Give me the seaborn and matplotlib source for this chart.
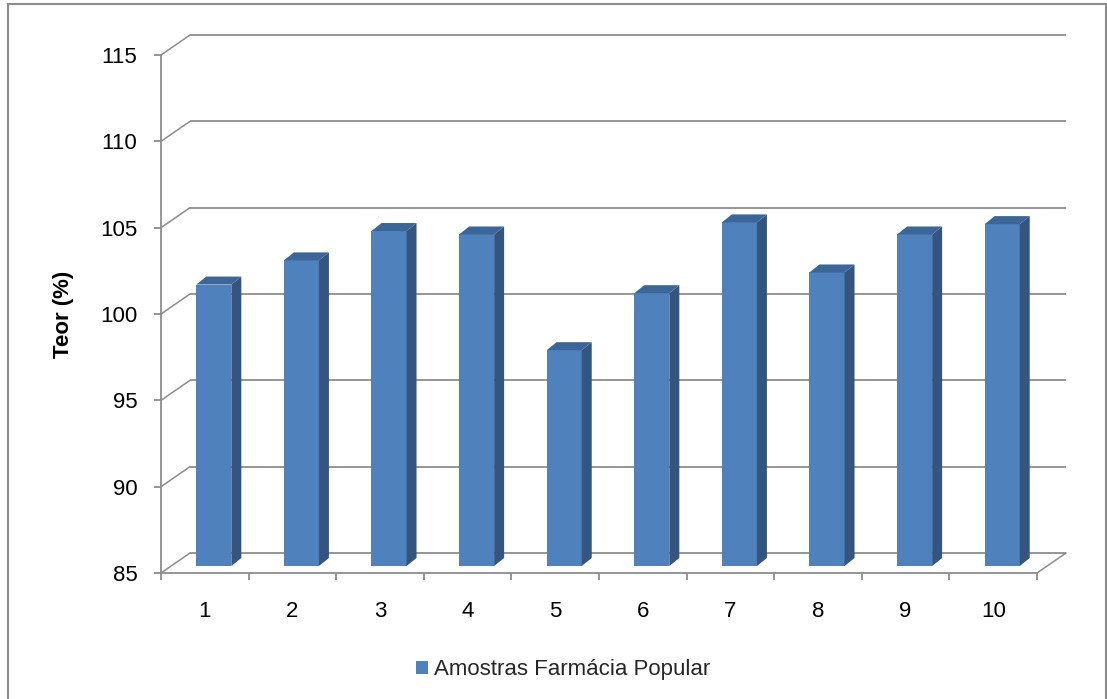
import numpy as np
import pandas as pd
import matplotlib
matplotlib.use("Agg")
import matplotlib.pyplot as plt
from matplotlib.patches import Polygon, Rectangle
import seaborn as sns

# Data
amostras = ["1", "2", "3", "4", "5", "6", "7", "8", "9", "10"]
teor = [101.3, 102.7, 104.4, 104.2, 97.5, 100.8, 104.9, 102.0, 104.2, 104.8]
y_ticks = [85, 90, 95, 100, 105, 110, 115]
serie = "Amostras Farmácia Popular"
y_label = "Teor (%)"

# Styling
FRONT = "#4f81bd"
SIDE = "#34557f"
TOP = "#3c6598"
GRID = "#8c8c8c"
FS = 16

sns.set_theme(style="ticks")
plt.rcParams["font.family"] = ["Liberation Sans", "DejaVu Sans"]

W, H = 1107, 699
fig = plt.figure(figsize=(W / 100, H / 100), dpi=100)
ax = fig.add_axes([161 / W, (H - 573) / H, 876 / W, 518 / H])

df = pd.DataFrame({"amostra": amostras, "teor": teor})
sns.barplot(data=df, x="amostra", y="teor", color=FRONT, saturation=1,
            width=0.4, linewidth=0, label=serie, ax=ax, zorder=3)
if ax.get_legend() is not None:
    ax.get_legend().remove()

ax.set_xlim(-0.5, len(amostras) - 0.5)
ax.set_ylim(y_ticks[0], y_ticks[-1])
BASE = y_ticks[0]

# oblique depth offsets, expressed in data units
px_x = 876 / len(amostras)
px_y = 518 / (y_ticks[-1] - y_ticks[0])
DX, DY = 29 / px_x, 20 / px_y          # full floor depth
BX0, BY0 = 9 / px_x, 7 / px_y          # bar front face
BX1, BY1 = 19 / px_x, 15 / px_y        # bar back face

# back wall gridlines, left wall diagonals and the floor edge
x_left, x_right = -0.5, len(amostras) - 0.5
for v in y_ticks:
    ax.plot([x_left + DX, x_right + DX], [v + DY, v + DY], color=GRID,
            lw=1.3, clip_on=False, zorder=1, solid_capstyle="butt")
    ax.plot([x_left, x_left + DX], [v, v + DY], color=GRID, lw=1.1,
            clip_on=False, zorder=1)
ax.plot([x_right, x_right + DX], [BASE, BASE + DY], color=GRID, lw=1.1,
        clip_on=False, zorder=1)

# give each bar its depth: shift the front face and add side and top faces
for p in list(ax.patches):
    x0 = p.get_x()
    w = p.get_width()
    top = p.get_height()
    x1 = x0 + w
    p.set_x(x0 + BX0)
    p.set_y(BASE + BY0)
    p.set_height(top - BASE)
    side = Polygon([(x1 + BX0, BASE + BY0), (x1 + BX1, BASE + BY1),
                    (x1 + BX1, top + BY1), (x1 + BX0, top + BY0)],
                   closed=True, facecolor=SIDE, edgecolor="none", zorder=3)
    cap = Polygon([(x0 + BX0, top + BY0), (x1 + BX0, top + BY0),
                   (x1 + BX1, top + BY1), (x0 + BX1, top + BY1)],
                  closed=True, facecolor=TOP, edgecolor="none", zorder=3)
    ax.add_patch(side)
    ax.add_patch(cap)

# axes spines and ticks
for s in ["top", "right"]:
    ax.spines[s].set_visible(False)
for s in ["left", "bottom"]:
    ax.spines[s].set_color(GRID)
    ax.spines[s].set_linewidth(1.3)

ax.set_yticks(y_ticks)
ax.set_yticklabels([str(v) for v in y_ticks])
ax.tick_params(axis="y", length=5, width=1.3, color=GRID, pad=12,
               labelsize=FS, labelcolor="black", left=True)

ax.set_xticks(np.arange(-0.5, len(amostras), 1.0))
ax.set_xticklabels([])
ax.set_xticks(np.arange(len(amostras)), minor=True)
ax.set_xticklabels(amostras, minor=True)
ax.tick_params(axis="x", which="major", length=5, width=1.3, color=GRID,
               bottom=True)
ax.tick_params(axis="x", which="minor", length=0, pad=20, labelsize=FS,
               labelcolor="black")

ax.set_xlabel("")
ax.set_ylabel(y_label, fontsize=FS, fontweight="bold", color="black")
ax.yaxis.label.set_va("center")
ax.yaxis.set_label_coords((64 - 161) / 876, 0.5)

# legend below the plot
handles, labels = ax.get_legend_handles_labels()
fig.legend(handles[:1], labels[:1], loc="center",
           bbox_to_anchor=(563 / W, 1 - 670 / H), frameon=False,
           fontsize=FS, handlelength=0.55, handleheight=0.55,
           handletextpad=0.25)

# chart area frame
fig.patches.append(Rectangle((7.5 / W, -0.02), (1105.5 - 7.5) / W,
                             1.02 - 4 / H, transform=fig.transFigure,
                             fill=False, edgecolor=GRID, lw=1.5))

fig.savefig("out.png", dpi=100)
